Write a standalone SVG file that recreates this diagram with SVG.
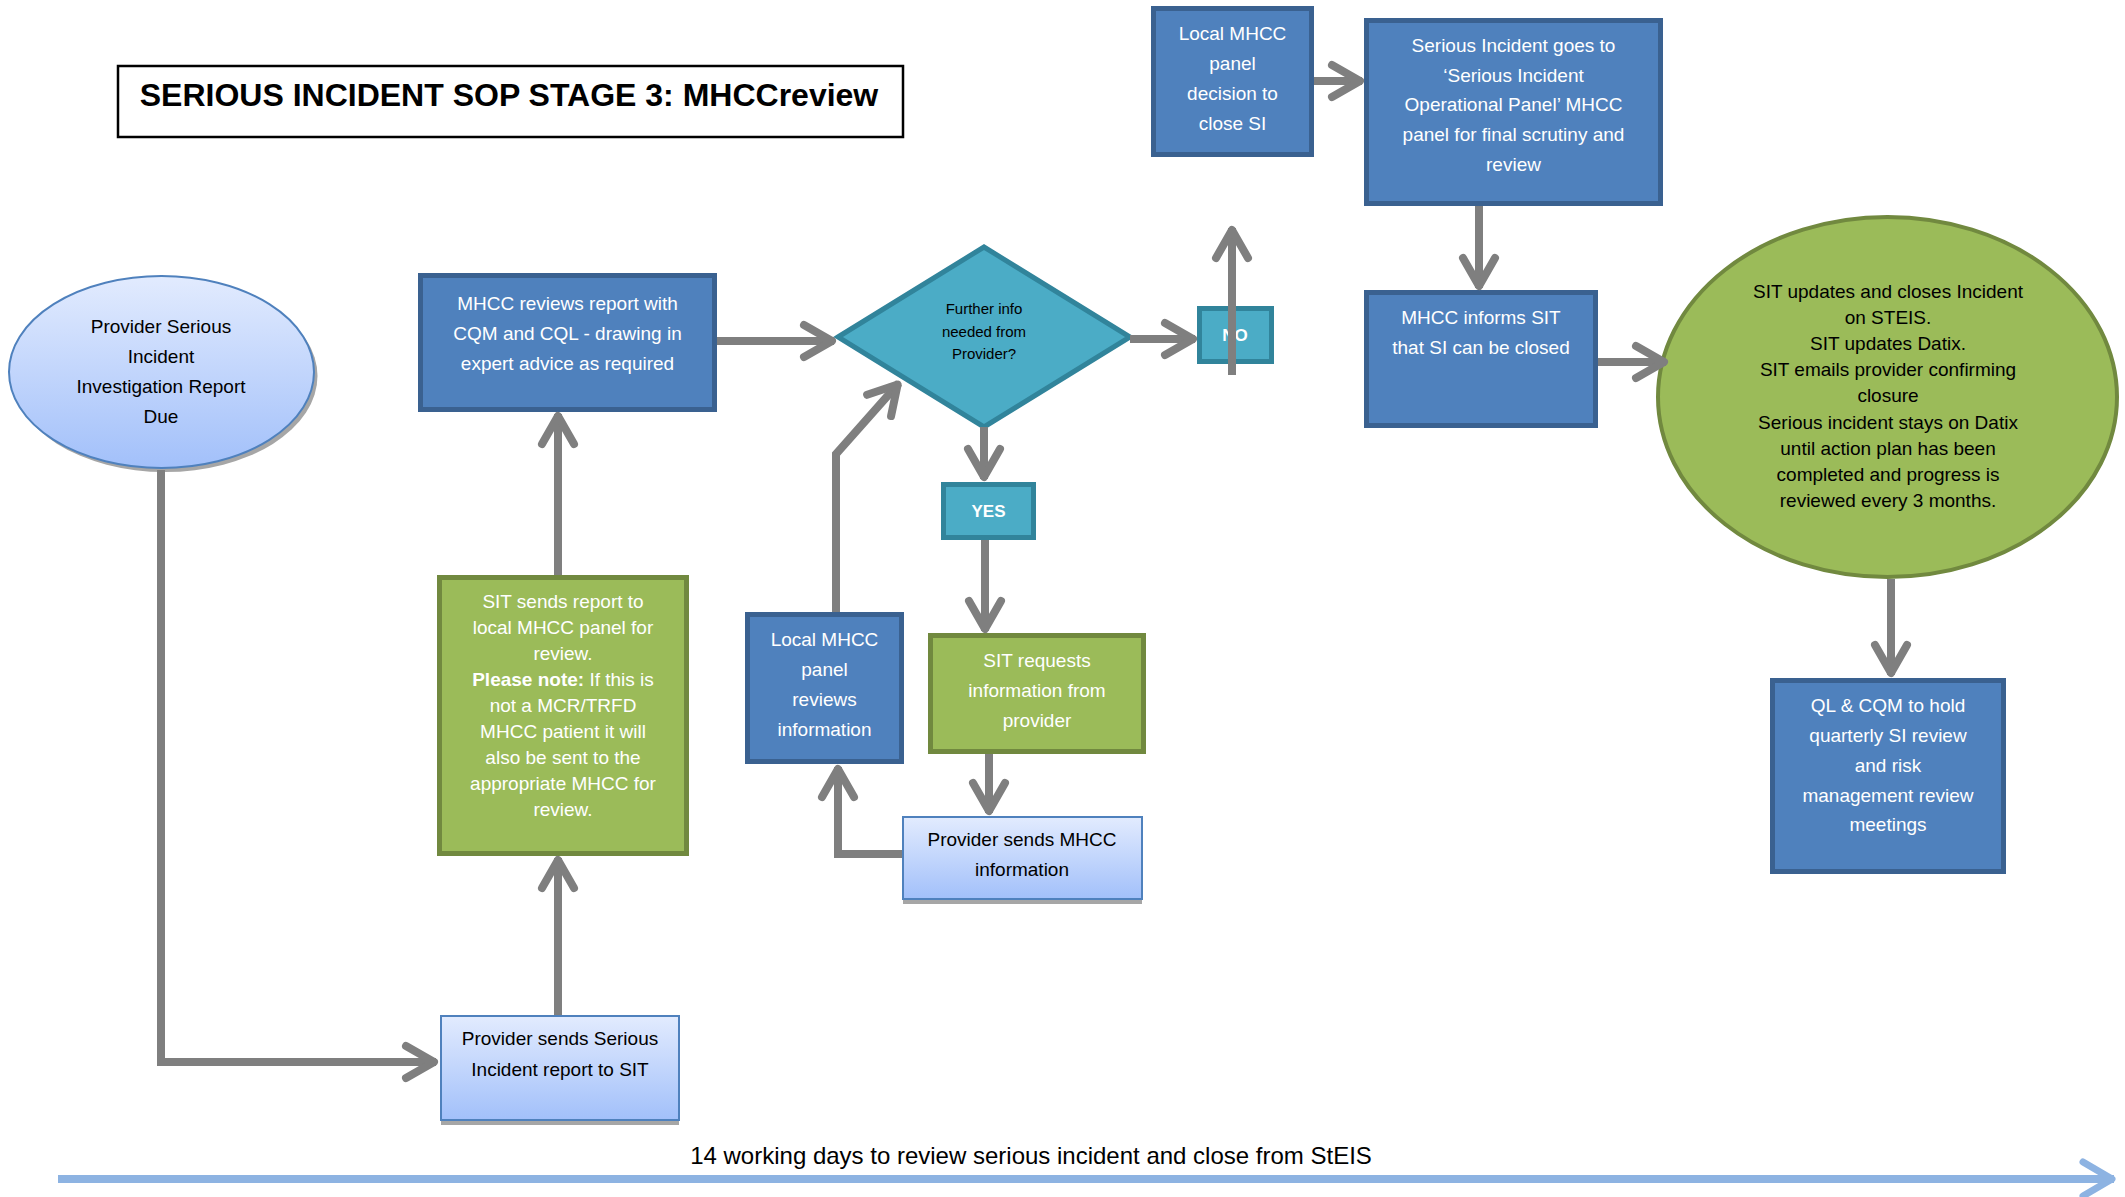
<svg xmlns="http://www.w3.org/2000/svg" width="2125" height="1197" viewBox="0 0 2125 1197">
<defs>
<linearGradient id="lg" x1="0" y1="0" x2="0" y2="1">
<stop offset="0" stop-color="#e2ebfe"/>
<stop offset="1" stop-color="#a2c0fa"/>
</linearGradient>
<marker id="ah" markerUnits="userSpaceOnUse" viewBox="-40 -22 46 44" markerWidth="46" markerHeight="44" refX="0" refY="0" orient="auto" overflow="visible">
<path d="M-30,-16 L-2,0 L-30,16" fill="none" stroke="#7f7f7f" stroke-width="8" stroke-linecap="round" stroke-linejoin="round"/>
</marker>
<marker id="ahb" markerUnits="userSpaceOnUse" viewBox="-40 -22 46 44" markerWidth="46" markerHeight="44" refX="0" refY="0" orient="auto" overflow="visible">
<path d="M-31,-17 L-2,0 L-31,17" fill="none" stroke="#8db3e2" stroke-width="7" stroke-linecap="round" stroke-linejoin="round"/>
</marker>
</defs>
<style>
text{font-family:"Liberation Sans",Arial,sans-serif;font-size:19px;text-anchor:middle}
.w{fill:#ffffff}
.k{fill:#000000}
.blue{fill:#4f81bd;stroke:#3a6190;stroke-width:5}
.green{fill:#9bbb59;stroke:#71893f;stroke-width:5}
.teal{fill:#4bacc6;stroke:#31849b;stroke-width:5}
.light{fill:url(#lg);stroke:#4f81bd;stroke-width:2}
.shadow{fill:#a6a6a6}
.conn{fill:none;stroke:#7f7f7f;stroke-width:8;marker-end:url(#ah)}
</style>
<rect width="2125" height="1197" fill="#ffffff"/>

<g id="title">
<rect x="118" y="66" width="785" height="71" fill="#ffffff" stroke="#000000" stroke-width="2.5"/>
<text x="509" y="106" style="font-size:32px;font-weight:bold" class="k">SERIOUS INCIDENT SOP STAGE 3: MHCCreview</text>
</g>

<g id="node-report-due">
<ellipse cx="165" cy="376" rx="152.5" ry="96" class="shadow"/>
<ellipse cx="161.5" cy="372" rx="152.5" ry="96" class="light"/>
<text class="k" x="161" y="333">Provider Serious</text>
<text class="k" x="161" y="363">Incident</text>
<text class="k" x="161" y="393">Investigation Report</text>
<text class="k" x="161" y="423">Due</text>
</g>

<g id="node-provider-sends-report">
<rect x="441" y="1021" width="238" height="104" class="shadow"/>
<rect x="441" y="1016" width="238" height="104" class="light"/>
<text class="k" x="560" y="1045">Provider sends Serious</text>
<text class="k" x="560" y="1076">Incident report to SIT</text>
</g>

<g id="node-sit-sends">
<rect x="439.5" y="577.5" width="247" height="276" class="green"/>
<text class="w" x="563" y="608">SIT sends report to</text>
<text class="w" x="563" y="634">local MHCC panel for</text>
<text class="w" x="563" y="660">review.</text>
<text class="w" x="563" y="686"><tspan font-weight="bold">Please note:</tspan> If this is</text>
<text class="w" x="563" y="712">not a MCR/TRFD</text>
<text class="w" x="563" y="738">MHCC patient it will</text>
<text class="w" x="563" y="764">also be sent to the</text>
<text class="w" x="563" y="790">appropriate MHCC for</text>
<text class="w" x="563" y="816">review.</text>
</g>

<g id="node-mhcc-reviews">
<rect x="420.5" y="275.5" width="294" height="134" class="blue"/>
<text class="w" x="567.5" y="310">MHCC reviews report with</text>
<text class="w" x="567.5" y="340">CQM and CQL - drawing in</text>
<text class="w" x="567.5" y="370">expert advice as required</text>
</g>

<g id="node-decision">
<polygon points="838,337 984,247 1130,337 984,427" class="teal"/>
<text class="k" x="984" y="314" style="font-size:15px">Further info</text>
<text class="k" x="984" y="337" style="font-size:15px">needed from</text>
<text class="k" x="984" y="359" style="font-size:15px">Provider?</text>
</g>

<g id="node-no">
<rect x="1199.5" y="308.5" width="72" height="53" class="teal"/>
<text class="w" x="1235" y="341" style="font-size:17px;font-weight:bold">NO</text>
</g>

<g id="node-yes">
<rect x="943.5" y="484.5" width="90" height="53" class="teal"/>
<text class="w" x="988.5" y="517" style="font-size:17px;font-weight:bold">YES</text>
</g>

<g id="node-sit-requests">
<rect x="930.5" y="635.5" width="213" height="116" class="green"/>
<text class="w" x="1037" y="667">SIT requests</text>
<text class="w" x="1037" y="697">information from</text>
<text class="w" x="1037" y="727">provider</text>
</g>

<g id="node-provider-sends-info">
<rect x="903" y="822" width="239" height="82" class="shadow"/>
<rect x="903" y="817" width="239" height="82" class="light"/>
<text class="k" x="1022" y="846">Provider sends MHCC</text>
<text class="k" x="1022" y="876">information</text>
</g>

<g id="node-local-reviews">
<rect x="747.5" y="614.5" width="154" height="147" class="blue"/>
<text class="w" x="824.5" y="646">Local MHCC</text>
<text class="w" x="824.5" y="676">panel</text>
<text class="w" x="824.5" y="706">reviews</text>
<text class="w" x="824.5" y="736">information</text>
</g>

<g id="node-local-decision">
<rect x="1153.5" y="8.5" width="158" height="146" class="blue"/>
<text class="w" x="1232.5" y="40">Local MHCC</text>
<text class="w" x="1232.5" y="70">panel</text>
<text class="w" x="1232.5" y="100">decision to</text>
<text class="w" x="1232.5" y="130">close SI</text>
</g>

<g id="node-operational-panel">
<rect x="1366.5" y="20.5" width="294" height="183" class="blue"/>
<text class="w" x="1513.5" y="52">Serious Incident goes to</text>
<text class="w" x="1513.5" y="82">‘Serious Incident</text>
<text class="w" x="1513.5" y="111">Operational Panel’ MHCC</text>
<text class="w" x="1513.5" y="141">panel for final scrutiny and</text>
<text class="w" x="1513.5" y="171">review</text>
</g>

<g id="node-informs">
<rect x="1366.5" y="292.5" width="229" height="133" class="blue"/>
<text class="w" x="1481" y="324">MHCC informs SIT</text>
<text class="w" x="1481" y="354">that SI can be closed</text>
</g>

<g id="node-closes">
<ellipse cx="1887.5" cy="397" rx="229.5" ry="180" fill="#9bbb59" stroke="#71893f" stroke-width="4"/>
<text class="k" x="1888" y="298">SIT updates and closes Incident</text>
<text class="k" x="1888" y="324">on STEIS.</text>
<text class="k" x="1888" y="350">SIT updates Datix.</text>
<text class="k" x="1888" y="376">SIT emails provider confirming</text>
<text class="k" x="1888" y="402">closure</text>
<text class="k" x="1888" y="429">Serious incident stays on Datix</text>
<text class="k" x="1888" y="455">until action plan has been</text>
<text class="k" x="1888" y="481">completed and progress is</text>
<text class="k" x="1888" y="507">reviewed every 3 months.</text>
</g>

<g id="node-quarterly">
<rect x="1772.5" y="680.5" width="231" height="191" class="blue"/>
<text class="w" x="1888" y="712">QL &amp; CQM to hold</text>
<text class="w" x="1888" y="742">quarterly SI review</text>
<text class="w" x="1888" y="772">and risk</text>
<text class="w" x="1888" y="802">management review</text>
<text class="w" x="1888" y="831">meetings</text>
</g>

<g id="connectors">
<polyline class="conn" points="161,470 161,1062 436,1062"/>
<line class="conn" x1="558" y1="1015" x2="558" y2="858"/>
<line class="conn" x1="558" y1="575" x2="558" y2="414"/>
<line class="conn" x1="717" y1="341" x2="834" y2="341"/>
<line class="conn" x1="1130" y1="339" x2="1195" y2="339"/>
<line class="conn" x1="1232" y1="375" x2="1232" y2="228"/>
<line class="conn" x1="1314" y1="81" x2="1362" y2="81"/>
<line class="conn" x1="1479" y1="206" x2="1479" y2="288"/>
<line class="conn" x1="1598" y1="362" x2="1666" y2="362"/>
<line class="conn" x1="1891" y1="579" x2="1891" y2="675"/>
<line class="conn" x1="984" y1="427" x2="984" y2="479"/>
<line class="conn" x1="985" y1="540" x2="985" y2="631"/>
<line class="conn" x1="989" y1="754" x2="989" y2="813"/>
<polyline class="conn" points="902,854 838,854 838,767"/>
<polyline class="conn" points="836,612 836,454 899,383"/>
</g>

<g id="timeline">
<line x1="58" y1="1179" x2="2114" y2="1179" stroke="#8db3e2" stroke-width="8" marker-end="url(#ahb)"/>
<text class="k" x="1031" y="1164" style="font-size:24px">14 working days to review serious incident and close from StEIS</text>
</g>
</svg>
